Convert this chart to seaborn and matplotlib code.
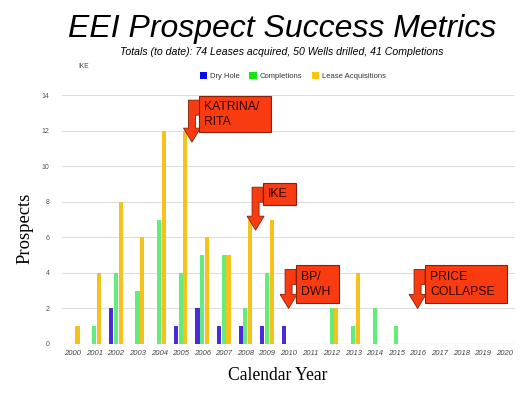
import matplotlib
matplotlib.use("Agg")
import matplotlib.pyplot as plt
import seaborn as sns
import pandas as pd
from matplotlib.patches import Polygon, Rectangle, Patch

years = [str(y) for y in range(2000, 2021)]
dry_hole = [0, 0, 2, 0, 0, 1, 2, 1, 1, 1, 1, 0, 0, 0, 0, 0, 0, 0, 0, 0, 0]
completions = [0, 1, 4, 3, 7, 4, 5, 5, 2, 4, 0, 0, 2, 1, 2, 1, 0, 0, 0, 0, 0]
lease_acq = [1, 4, 8, 6, 12, 12, 6, 5, 7, 7, 0, 0, 2, 4, 0, 0, 0, 0, 0, 0, 0]
series_names = ["Dry Hole", "Completions", "Lease Acquisitions"]
bar_colors = ["#4B2ADB", "#62EC7A", "#F5C11A"]
legend_colors = ["#0A0AF0", "#14E614", "#FFC20E"]

# annotations: (label, tip year index, tip value, box width px, box height px)
notes = [("KATRINA/\nRITA", 5.5, 11.35, 72, 36),
         ("IKE", 8.45, 6.4, 33, 22),
         ("BP/\nDWH", 9.98, 2.0, 43, 38),
         ("PRICE\nCOLLAPSE", 15.96, 2.0, 82, 38)]

df = pd.DataFrame({"Year": years * 3,
                   "Value": dry_hole + completions + lease_acq,
                   "Series": [series_names[0]] * 21 + [series_names[1]] * 21 + [series_names[2]] * 21})

sns.set_theme(style="white")
plt.rcParams['font.family'] = ['Liberation Sans', 'DejaVu Sans']

W, H = 527, 395
fig = plt.figure(figsize=(W / 100, H / 100), dpi=100)
ax = fig.add_axes([62 / W, 1 - 344 / H, (515 - 62) / W, (344 - 95) / H])

sns.barplot(data=df, x="Year", y="Value", hue="Series", palette=bar_colors,
            width=0.66, gap=0.12, ax=ax, legend=False, saturation=1, linewidth=0)

ax.set_xlim(-0.5, 20.5)
ax.set_ylim(0, 14)
ax.set_yticks(range(0, 15, 2))
ax.yaxis.grid(True, color="#DDDDDD", linewidth=0.8)
ax.set_axisbelow(True)
for s in ax.spines.values():
    s.set_visible(False)
ax.axhline(0, color="#BBBBBB", linewidth=0.8, zorder=0.5)
ax.tick_params(axis='y', labelsize=5, labelcolor="#555555", length=0, pad=9)
ax.tick_params(axis='x', labelsize=5.5, labelcolor="#444444", length=0, pad=4)
for lab in ax.get_xticklabels():
    lab.set_fontstyle('italic')
ax.set_xlabel("Calendar Year", family="Liberation Serif", fontsize=12.7, color="black")
ax.set_ylabel("Prospects", family="Liberation Serif", fontsize=13.4, color="black")
ax.xaxis.set_label_coords((277.5 - 62) / (515 - 62), (344 - 376) / (344 - 95))
ax.yaxis.set_label_coords((25 - 62) / (515 - 62), (344 - 228) / (344 - 95))
ax.xaxis.label.set_va("center")
ax.yaxis.label.set_va("center")

fig.text(282 / W, 1 - 29 / H, "EEI Prospect Success Metrics", ha="center", va="center",
         fontsize=23, style="italic", color="black")
fig.text(282 / W, 1 - 52 / H, "Totals (to date): 74 Leases acquired, 50 Wells drilled, 41 Completions",
         ha="center", va="center", fontsize=7.6, style="italic", color="black")
fig.text(78 / W, 1 - 67 / H, "IKE", ha="left", va="center", fontsize=4.8, color="#444444")

handles = [Patch(facecolor=c, edgecolor="none", label=n) for c, n in zip(legend_colors, series_names)]
fig.legend(handles=handles, loc="center", bbox_to_anchor=(293 / W, 1 - 76 / H), ncol=3,
           frameon=False, fontsize=5.5, handlelength=1.0, handleheight=1.0, handletextpad=0.4,
           columnspacing=1.2, labelcolor="#333333")

red = "#F93B12"
edge = "#8A1E08"
for label, tx, ty, bw, bh in notes:
    px, py = ax.transData.transform((tx, ty))
    box_left = px + 8
    box_bottom = py + (25 if bh < 30 else 5 if bh > 37 else 10)
    box_top = box_bottom + bh
    top = box_top - 4
    pts = [(-3, top - py), (8, top - py), (8, top - py - 15), (4, top - py - 15),
           (4, 14), (9, 14), (0.5, 0), (-8, 14), (-3, 14)]
    poly = Polygon([(px + a, py + b) for a, b in pts], closed=True, facecolor=red,
                   edgecolor=edge, linewidth=0.6, transform=None, zorder=5)
    fig.add_artist(poly)
    rect = Rectangle((box_left, box_bottom), bw, bh, facecolor=red, edgecolor=edge,
                     linewidth=0.8, transform=None, zorder=6)
    fig.add_artist(rect)
    fig.text(box_left + 5, box_top - bh / 2, label, transform=None, ha="left", va="center",
             fontsize=8.8, color="#2A0600", zorder=7, linespacing=1.35)

fig.savefig("out.png", dpi=100)
